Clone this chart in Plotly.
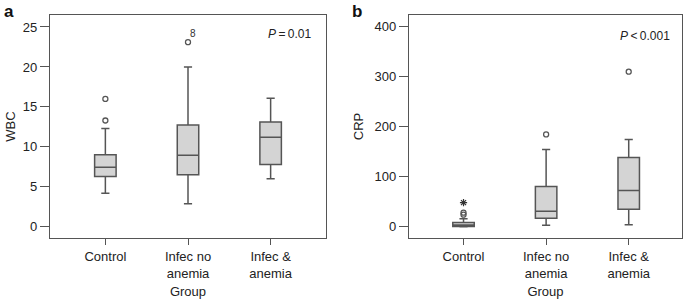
import plotly.graph_objects as go

groups = ["Control", "Infec no<br>anemia", "Infec &<br>anemia"]
xpos = [0, 1, 2]

# WBC (panel a)
wbc_low = [4.2, 2.9, 6.0]
wbc_q1 = [6.3, 6.5, 7.8]
wbc_med = [7.45, 8.95, 11.2]
wbc_q3 = [9.0, 12.75, 13.1]
wbc_high = [12.3, 20.0, 16.1]
wbc_out_x = [0, 0, 1]
wbc_out_y = [13.3, 16.0, 23.1]

# CRP (panel b)
crp_low = [0.0, 3.0, 4.0]
crp_q1 = [0.5, 17.0, 35.0]
crp_med = [3.5, 31.0, 72.0]
crp_q3 = [8.5, 80.0, 138.0]
crp_high = [16.0, 154.0, 174.0]
crp_out_x = [0, 0, 1, 2]
crp_out_y = [24.0, 28.0, 184.0, 309.0]
crp_extreme_x = [0]
crp_extreme_y = [48.0]

line_col = "#555555"
fill_col = "#d4d4d4"
font = "Liberation Sans, Arial, sans-serif"

fig = go.Figure()

def add_box(xa, ya, low, q1, med, q3, high):
    for i in range(3):
        fig.add_trace(go.Box(
            x=[xpos[i]], q1=[q1[i]], median=[med[i]], q3=[q3[i]],
            lowerfence=[low[i]], upperfence=[high[i]],
            width=0.26, whiskerwidth=0.38,
            fillcolor=fill_col, line=dict(color=line_col, width=1.5),
            boxpoints=False, showlegend=False, xaxis=xa, yaxis=ya))

add_box("x", "y", wbc_low, wbc_q1, wbc_med, wbc_q3, wbc_high)
add_box("x2", "y2", crp_low, crp_q1, crp_med, crp_q3, crp_high)

fig.add_trace(go.Scatter(x=wbc_out_x, y=wbc_out_y, mode="markers",
    marker=dict(symbol="circle-open", size=5, color=line_col, line=dict(width=1.3)),
    showlegend=False, xaxis="x", yaxis="y"))
fig.add_trace(go.Scatter(x=crp_out_x, y=crp_out_y, mode="markers",
    marker=dict(symbol="circle-open", size=5, color=line_col, line=dict(width=1.3)),
    showlegend=False, xaxis="x2", yaxis="y2"))
fig.add_trace(go.Scatter(x=crp_extreme_x, y=crp_extreme_y, mode="markers",
    marker=dict(symbol="asterisk-open", size=6, color="#333", line=dict(width=1.2, color="#333")),
    showlegend=False, xaxis="x2", yaxis="y2"))

W, H = 685, 299
ydom = [1 - 238 / H, 1 - 15 / H]
axis_common = dict(showline=True, mirror=True, linecolor=line_col, linewidth=1.2,
                   ticks="outside", tickcolor=line_col, tickwidth=1.2,
                   showgrid=False, zeroline=False,
                   tickfont=dict(family=font, size=13, color="#222"))

fig.update_layout(
    width=W, height=H, margin=dict(l=0, r=0, t=0, b=0),
    paper_bgcolor="white", plot_bgcolor="white",
    font=dict(family=font, color="#222"),
    xaxis=dict(domain=[50 / W, 326 / W], range=[-0.67, 2.67], tickvals=xpos, ticktext=groups,
               ticklen=6,
               title=dict(text="Group", font=dict(size=13), standoff=7), **axis_common),
    yaxis=dict(domain=ydom, range=[-1.4, 26.5], tickvals=[0, 5, 10, 15, 20, 25], ticklen=9,
               title=dict(text="WBC", font=dict(size=13), standoff=4), **axis_common),
    xaxis2=dict(domain=[409 / W, 682 / W], range=[-0.66, 2.645], tickvals=xpos, ticktext=groups,
                anchor="y2", ticklen=6,
                title=dict(text="Group", font=dict(size=13), standoff=7), **axis_common),
    yaxis2=dict(domain=ydom, range=[-22.5, 422], tickvals=[0, 100, 200, 300, 400], anchor="x2",
                ticklen=9,
                title=dict(text="CRP", font=dict(size=13), standoff=8), **axis_common),
    annotations=[
        dict(text="<b>a</b>", x=2 / W, y=1.0, xref="paper", yref="paper", xanchor="left",
             yanchor="top", showarrow=False, font=dict(size=17, family=font, color="#111")),
        dict(text="<b>b</b>", x=350 / W, y=1.0, xref="paper", yref="paper", xanchor="left",
             yanchor="top", showarrow=False, font=dict(size=17, family=font, color="#111")),
        dict(text="<i>P</i>\u2009=\u20090.01", x=314 / W, y=1 - 34 / H, xref="paper", yref="paper",
             xanchor="right", yanchor="middle", showarrow=False, font=dict(size=12, family=font)),
        dict(text="<i>P</i>\u2009<\u20090.001", x=672 / W, y=1 - 36 / H, xref="paper", yref="paper",
             xanchor="right", yanchor="middle", showarrow=False, font=dict(size=12, family=font)),
        dict(text="8", x=1, y=wbc_out_y[2], xref="x", yref="y", xshift=5, yshift=9,
             showarrow=False, font=dict(size=10, family=font, color="#333")),
    ],
)

fig.write_html("out.html", config={"displayModeBar": False},
               post_script="document.body.style.margin='0';")
